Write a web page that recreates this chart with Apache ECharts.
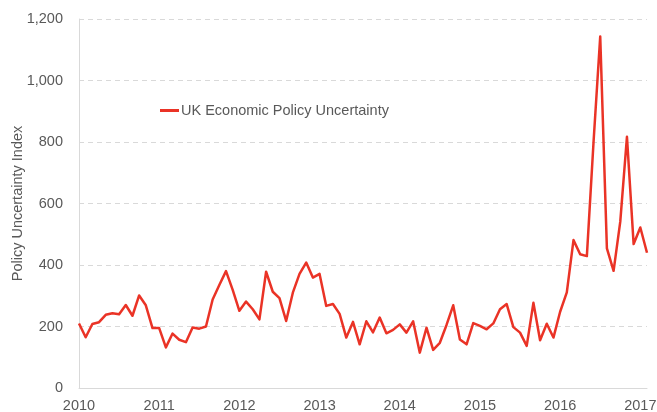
<!DOCTYPE html>
<html>
<head>
<meta charset="utf-8">
<script src="https://cdn.jsdelivr.net/npm/echarts@6/dist/echarts.min.js"></script>
<style>
  html, body { margin: 0; padding: 0; background: #fff; }
  #chart { width: 657px; height: 412px; }
</style>
</head>
<body>
<div id="chart"></div>
<script>
// Monthly index, Jan 2010 – Feb 2017
const startYear = 2010;
const seriesName = 'UK Economic Policy Uncertainty';
const epuValues = [
  210, 165, 208, 214, 238, 243, 240, 270, 235, 301, 269, 195,
  195, 132, 177, 157, 149, 197, 193, 200, 288, 335, 380, 319,
  251, 281, 256, 223, 378, 313, 292, 218, 310, 371, 408, 359,
  371, 267, 273, 241, 164, 215, 142, 217, 181, 229, 178, 189,
  207, 180, 217, 115, 196, 124, 147, 205, 269, 158, 142, 211,
  202, 191, 210, 256, 273, 198, 180, 137, 277, 155, 209, 164,
  248, 311, 481, 435, 429, 800, 1143, 454, 381, 541, 817, 468,
  522, 440
];
const yTicks = { min: 0, max: 1200, step: 200 };

const months = epuValues.map((_, i) => {
  const y = startYear + Math.floor(i / 12);
  const m = (i % 12) + 1;
  return y + '-' + (m < 10 ? '0' + m : m);
});

const textColor = '#595959';
const axisGray = '#d9d9d9';
const fontFamily = '"Liberation Sans", Arial, sans-serif';
const fontSize = 14.5;

const chart = echarts.init(document.getElementById('chart'), null, { renderer: 'canvas' });
chart.setOption({
  animation: false,
  backgroundColor: '#ffffff',
  grid: { left: 79, right: 10, top: 19, bottom: 24, containLabel: false, outerBoundsMode: 'none' },
  legend: {
    left: 155, top: 98,
    icon: 'rect', itemWidth: 19, itemHeight: 3, itemGap: 10,
    textStyle: { color: textColor, fontSize: fontSize, fontFamily: fontFamily, padding: [0, 0, 0, -3] },
    data: [seriesName]
  },
  xAxis: {
    type: 'category',
    data: months,
    boundaryGap: false,
    axisLine: { lineStyle: { color: axisGray, width: 1 } },
    axisTick: { show: false },
    axisLabel: {
      interval: (idx) => idx % 12 === 0,
      formatter: (v) => v.slice(0, 4),
      color: textColor, fontSize: fontSize, fontFamily: fontFamily, margin: 10
    },
    splitLine: { show: false }
  },
  yAxis: {
    type: 'value',
    min: yTicks.min, max: yTicks.max, interval: yTicks.step,
    name: 'Policy Uncertainty Index',
    nameLocation: 'middle',
    nameGap: 54,
    nameMoveOverlap: false,
    nameTextStyle: { color: textColor, fontSize: fontSize, fontFamily: fontFamily },
    axisLine: { show: true, lineStyle: { color: axisGray, width: 1 } },
    axisTick: { show: false },
    axisLabel: {
      color: textColor, fontSize: fontSize, fontFamily: fontFamily, margin: 16,
      formatter: (v) => v.toLocaleString('en-US')
    },
    splitLine: { show: true, lineStyle: { color: axisGray, type: [5, 4], width: 1 } }
  },
  series: [{
    name: seriesName,
    type: 'line',
    data: epuValues,
    showSymbol: false,
    symbol: 'none',
    lineStyle: { color: '#ea3326', width: 2.5, join: 'round' },
    itemStyle: { color: '#ea3326' }
  }]
});
</script>
</body>
</html>
